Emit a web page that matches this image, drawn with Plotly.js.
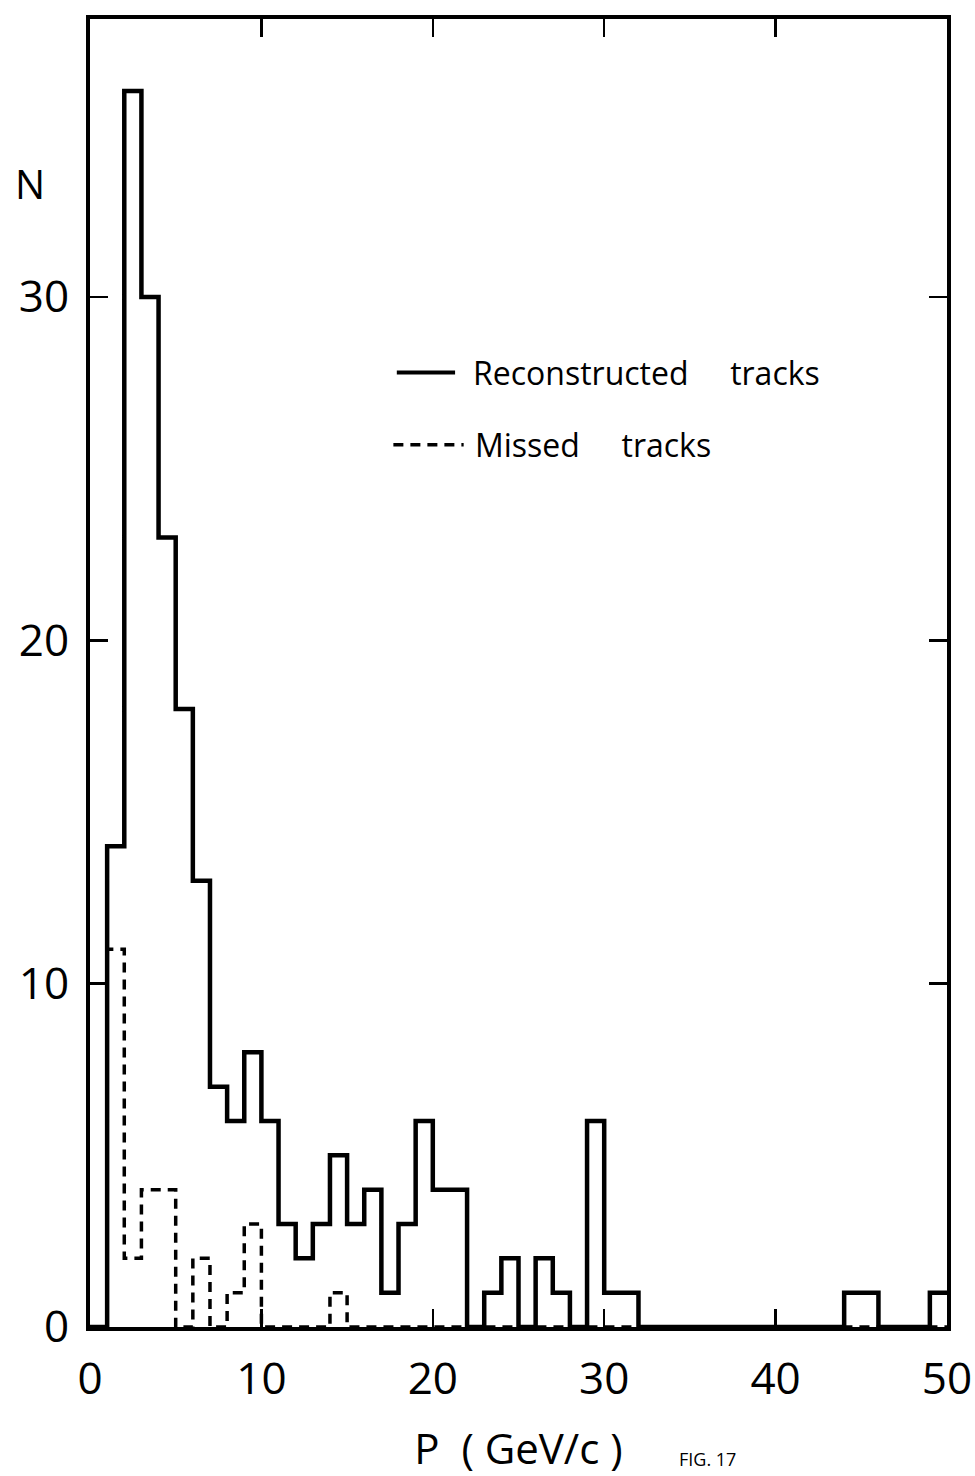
<!DOCTYPE html>
<html>
<head>
<meta charset="utf-8">
<script src="https://cdn.plot.ly/plotly-3.0.1.min.js"></script>
<style>
  html, body { margin: 0; padding: 0; background: #fff; overflow: hidden; }
  #chart { width: 975px; height: 1476px; }
</style>
</head>
<body>
<div id="chart"></div>
<script>
// Momentum bins, 1 GeV/c wide, lower edges 0..49
const binEdges = Array.from({length: 51}, (_, i) => i);

// Reconstructed tracks per bin
const reconstructed = [
  0, 14, 36, 30, 23, 18, 13, 7, 6, 8,
  6, 3, 2, 3, 5, 3, 4, 1, 3, 6,
  4, 4, 0, 1, 2, 0, 2, 1, 0, 6,
  1, 1, 0, 0, 0, 0, 0, 0, 0, 0,
  0, 0, 0, 0, 1, 1, 0, 0, 0, 1
];

// Missed tracks per bin
const missed = [
  0, 11, 2, 4, 4, 0, 2, 0, 1, 3,
  0, 0, 0, 0, 1, 0, 0, 0, 0, 0,
  0, 0, 0, 0, 0, 0, 0, 0, 0, 0,
  0, 0, 0, 0, 0, 0, 0, 0, 0, 0,
  0, 0, 0, 0, 0, 0, 0, 0, 0, 0
];

const xTicks = [0, 10, 20, 30, 40, 50];
const yTicks = [0, 10, 20, 30];
const legendLabels = [
  'Reconstructed\u00a0\u00a0\u00a0\u00a0\u00a0tracks',
  'Missed\u00a0\u00a0\u00a0\u00a0\u00a0tracks'
];
const xTitle = 'P\u00a0\u00a0(\u00a0GeV/c\u00a0)';
const yTitle = 'N';
const figLabel = 'FIG.\u00a017';

// step outline: repeat the last bin value so the final bin closes at x = 50
const stepY = arr => arr.concat([arr[arr.length - 1]]);

const FONT = 'Open Sans, DejaVu Sans, sans-serif';
const DASH = '10px,7px';

const traces = [
  {
    x: binEdges, y: stepY(reconstructed), type: 'scatter', mode: 'lines',
    line: {shape: 'hv', color: '#000', width: 4.5},
    hoverinfo: 'skip'
  },
  {
    x: binEdges, y: stepY(missed), type: 'scatter', mode: 'lines',
    line: {shape: 'hv', color: '#000', width: 3.5, dash: DASH},
    hoverinfo: 'skip'
  }
];

const axisCommon = {
  showline: true, linecolor: '#000', linewidth: 4, mirror: 'ticks',
  ticks: 'inside', ticklen: 18, tickwidth: 2.5, tickcolor: '#000',
  showgrid: false, zeroline: false, fixedrange: true,
  tickfont: {family: FONT, size: 44, color: '#000'}
};

const layout = {
  width: 975, height: 1476,
  margin: {l: 90, r: 28, t: 19, b: 149},
  paper_bgcolor: '#fff', plot_bgcolor: '#fff',
  showlegend: false,
  xaxis: Object.assign({}, axisCommon, {
    range: [0, 50], tickvals: xTicks, ticktext: xTicks.map(String),
    ticklabelstandoff: 10,
    title: {text: xTitle, font: {family: FONT, size: 42, color: '#000'}, standoff: 38}
  }),
  yaxis: Object.assign({}, axisCommon, {
    range: [0, 38.1], tickvals: yTicks, ticktext: yTicks.map(String),
    ticklabelstandoff: 8
  }),
  shapes: [
    {type: 'line', xref: 'x', yref: 'y', x0: 17.9, x1: 21.3, y0: 27.8, y1: 27.8,
     line: {color: '#000', width: 4}},
    {type: 'line', xref: 'x', yref: 'y', x0: 17.7, x1: 21.8, y0: 25.7, y1: 25.7,
     line: {color: '#000', width: 3.5, dash: DASH}}
  ],
  annotations: [
    {text: legendLabels[0], xref: 'x', yref: 'y', x: 22.2, y: 27.8,
     xanchor: 'left', yanchor: 'middle', showarrow: false,
     font: {family: FONT, size: 32, color: '#000'}},
    {text: legendLabels[1], xref: 'x', yref: 'y', x: 22.35, y: 25.7,
     xanchor: 'left', yanchor: 'middle', showarrow: false,
     font: {family: FONT, size: 32, color: '#000'}},
    {text: yTitle, xref: 'paper', yref: 'y', x: -0.07, y: 33.3,
     xanchor: 'center', yanchor: 'middle', showarrow: false,
     font: {family: FONT, size: 40, color: '#000'}},
    {text: figLabel, xref: 'paper', yref: 'paper', x: 0.72, y: -0.112,
     xanchor: 'center', yanchor: 'bottom', showarrow: false,
     font: {family: FONT, size: 18, color: '#000'}}
  ]
};

Plotly.newPlot('chart', traces, layout, {staticPlot: true, displayModeBar: false});
</script>
</body>
</html>
